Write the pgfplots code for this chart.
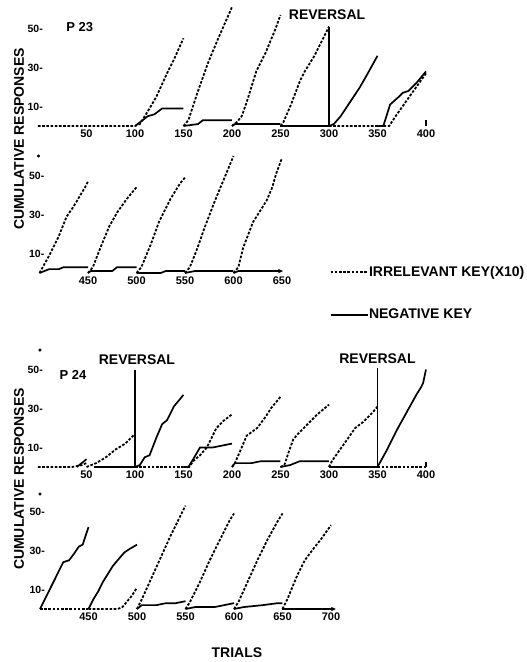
\documentclass[border=0pt]{standalone}
\usepackage{fontspec}
\setmainfont{Liberation Sans}
\usepackage{pgfplots}
\pgfplotsset{compat=1.18}
\usetikzlibrary{arrows.meta}
\pgfplotsset{
  panel/.style={scale only axis, clip=false,
    axis line style={draw=none}, tick style={draw=none},
    ymin=0, ymax=60, height=117pt,
    ytick={10,30,50}, yticklabels={10-,30-,50-},
    yticklabel style={anchor=east, inner sep=0pt, xshift=5pt, font=\fontsize{10.5}{12}\selectfont\bfseries},
    xticklabel style={anchor=north, inner sep=0pt, yshift=-3.5pt, font=\fontsize{11}{12}\selectfont\bfseries}},
  irr/.style={black, line width=1.8pt, dash pattern=on 2.6pt off 1.6pt},
  neg/.style={black, line width=1.7pt},
  dotm/.style={only marks, mark=*, mark size=1.4pt, black},
}
\newcommand{\lab}{\fontsize{14}{16}\selectfont\bfseries}
\begin{document}
\begin{tikzpicture}
\useasboundingbox (0pt,0pt) rectangle (527pt,-662pt);
% ---------------- P23, trials 0-400
\begin{axis}[panel, at={(38pt,-126pt)}, anchor=south west, width=388pt,
  xmin=0, xmax=400, xtick={50,100,150,200,250,300,350,400},
  xticklabels={50,100,150,200,250,300,350,400}]
\addplot[irr] coordinates {(0,0)(100,0)(105,1)(115,9)(122,15)(133,27)(140,34)(150,45)};
\addplot[neg] coordinates {(100,0)(108,3)(113,5)(120,6)(128,9)(150,9)};
\addplot[irr] coordinates {(150,0)(155,3)(165,18)(175,32)(185,44)(200,61)};
\addplot[neg] coordinates {(150,0)(165,1)(170,3)(200,3)};
\addplot[irr] coordinates {(200,0)(205,2)(210,5)(215,12)(225,28)(235,38)(245,50)(250,57)};
\addplot[neg] coordinates {(200,0)(203,1)(250,1)};
\addplot[neg] coordinates {(250,0)(300,0)};
\addplot[irr] coordinates {(250,0)(253,2)(260,10)(270,23)(275,28)(285,36)(295,46)(300,51)};
\addplot[neg] coordinates {(300,0)(300,51)};
\addplot[neg] coordinates {(300,0)(305,1)(312,5)(320,11)(332,20)(340,27)(350,36)};
\addplot[irr] coordinates {(300,0)(362,0)(370,6)(380,13)(390,20)(400,27)};
\addplot[neg] coordinates {(350,0)(356,0)(363,11)(372,15)(376,17)(382,18)(390,22)(400,28)};
\addplot[neg, line width=1.2pt] coordinates {(400,0)(400,3)};
\node[font=\lab] at (axis cs:298,57) {REVERSAL};
\node[font=\fontsize{13}{15}\selectfont\bfseries] at (axis cs:43,51) {P 23};
\node[font=\lab, rotate=90] at (axis cs:-19.5,-6.7) {CUMULATIVE RESPONSES};
\end{axis}
% ---------------- P23, trials 400-650
\begin{axis}[panel, at={(39.5pt,-273pt)}, anchor=south west, width=242.5pt,
  xmin=400, xmax=650, xtick={450,500,550,600,650},
  xticklabels={450,500,550,600,650},
  legend style={at={(axis cs:699,-10.5)}, anchor=west, draw=none, fill=none,
    inner sep=0pt, row sep=30pt, font=\lab, nodes={inner sep=0.5pt}},
  legend cell align=left,
  legend image code/.code={\draw[#1] (0pt,0pt) -- (37pt,0pt);}]
\addlegendimage{irr}
\addlegendentry{IRRELEVANT KEY(X10)}
\addlegendimage{neg}
\addlegendentry{NEGATIVE KEY}
\addplot[irr] coordinates {(400,0)(410,9)(420,19)(428,29)(435,34)(441,39)(447,44)(450,47)};
\addplot[neg] coordinates {(400,0)(410,2)(420,2)(425,3)(430,3)(450,3)};
\addplot[neg] coordinates {(450,0)(453,1)(475,1)(480,3)(500,3)};
\addplot[irr] coordinates {(450,0)(455,3)(462,12)(472,24)(480,31)(490,38)(500,44)};
\addplot[neg] coordinates {(500,0)(525,0)(530,1)(550,1)};
\addplot[irr] coordinates {(500,0)(505,3)(515,15)(523,26)(535,38)(545,46)(550,49)};
\addplot[neg] coordinates {(550,0)(560,1)(600,1)};
\addplot[irr] coordinates {(550,0)(555,3)(563,13)(570,23)(580,36)(590,48)(600,60)};
\addplot[neg, -{Stealth[length=5pt,width=4.5pt]}] coordinates {(600,0)(605,1)(651,1)};
\addplot[irr] coordinates {(600,0)(605,3)(610,13)(620,26)(634,37)(640,44)(644,51)(650,59)};
\addplot[dotm] coordinates {(399,60)};
\end{axis}
% ---------------- P24, trials 0-400
\begin{axis}[panel, at={(38pt,-467pt)}, anchor=south west, width=388pt,
  xmin=0, xmax=400, xtick={50,100,150,200,250,300,350,400},
  xticklabels={50,100,150,200,250,300,350,400}]
\addplot[irr] coordinates {(0,0)(35,0)(45,1)(50,2)};
\addplot[neg] coordinates {(40,0)(45,2)(50,4)};
\addplot[neg] coordinates {(58,0)(100,0)};
\addplot[irr] coordinates {(50,0)(55,1)(60,2)(70,5)(80,9)(90,12)(100,17)};
\addplot[neg] coordinates {(100,0)(100,50)};
\addplot[neg] coordinates {(100,0)(105,1)(110,5)(115,6)(122,15)(128,22)(133,24)(140,31)(145,34)(150,37)};
\addplot[irr] coordinates {(100,0)(150,0)};
\addplot[neg] coordinates {(150,0)(155,0)(160,4)(167,10)(180,10)(190,11)(200,12)};
\addplot[irr] coordinates {(150,0)(156,0)(160,3)(167,6)(174,10)(180,16)(184,20)(192,24)(200,27)};
\addplot[irr] coordinates {(200,0)(203,2)(210,10)(215,16)(226,20)(235,26)(240,30)(250,36)};
\addplot[neg] coordinates {(200,0)(203,2)(220,2)(230,3)(250,3)};
\addplot[irr] coordinates {(250,0)(254,1)(258,7)(263,14)(268,17)(278,22)(288,27)(300,32)};
\addplot[neg] coordinates {(250,0)(260,1)(270,3)(300,3)};
\addplot[irr] coordinates {(300,0)(303,3)(310,8)(320,15)(327,20)(335,23)(345,28)(350,31)};
\addplot[neg] coordinates {(300,0)(350,0)};
\addplot[neg] coordinates {(350,0)(350,51)};
\addplot[neg] coordinates {(350,0)(360,9)(370,19)(380,28)(390,37)(395,41)(397,43)(400,50)};
\addplot[irr] coordinates {(350,0)(400,0)};
\addplot[neg, line width=1.2pt] coordinates {(400,0)(400,2.5)};
\addplot[dotm] coordinates {(2,60)};
\node[font=\lab] at (axis cs:102,55) {REVERSAL};
\node[font=\lab] at (axis cs:350,55.5) {REVERSAL};
\node[font=\fontsize{13}{15}\selectfont\bfseries] at (axis cs:36,47) {P 24};
\node[font=\lab, rotate=90] at (axis cs:-19.5,-6.2) {CUMULATIVE RESPONSES};
\end{axis}
% ---------------- P24, trials 400-700
\begin{axis}[panel, at={(40pt,-609pt)}, anchor=south west, width=291pt,
  xmin=400, xmax=700, xtick={450,500,550,600,650,700},
  xticklabels={450,500,550,600,650,700}]
\addplot[neg] coordinates {(400,0)(410,10)(420,20)(424,24)(430,25)(436,29)(440,32)(444,33)(450,42)};
\addplot[irr] coordinates {(400,0)(450,0)};
\addplot[neg] coordinates {(450,0)(455,5)(460,9)(465,14)(470,18)(475,22)(480,25)(487,29)(493,31)(500,33)};
\addplot[irr] coordinates {(450,0)(480,0)(485,1)(490,4)(495,7)(500,11)};
\addplot[irr] coordinates {(500,0)(505,5)(515,16)(525,27)(535,38)(545,48)(550,53)};
\addplot[neg] coordinates {(500,0)(505,2)(520,2)(530,3)(540,3)(550,4)};
\addplot[irr] coordinates {(550,0)(555,4)(565,14)(575,25)(585,35)(595,45)(600,49)};
\addplot[neg] coordinates {(550,0)(560,1)(580,1)(590,2)(600,3)};
\addplot[irr] coordinates {(600,0)(605,4)(615,15)(625,26)(635,36)(645,45)(650,49)};
\addplot[neg] coordinates {(600,0)(610,1)(630,2)(645,3)(650,3)};
\addplot[irr] coordinates {(650,0)(655,5)(665,17)(673,25)(682,31)(690,36)(700,43)};
\addplot[neg, -{Stealth[length=5pt,width=4.5pt]}] coordinates {(650,0)(705,0)};
\addplot[dotm] coordinates {(400,59)};
\node[font=\lab] at (axis cs:603,-22.6) {TRIALS};
\end{axis}
\end{tikzpicture}
\end{document}
